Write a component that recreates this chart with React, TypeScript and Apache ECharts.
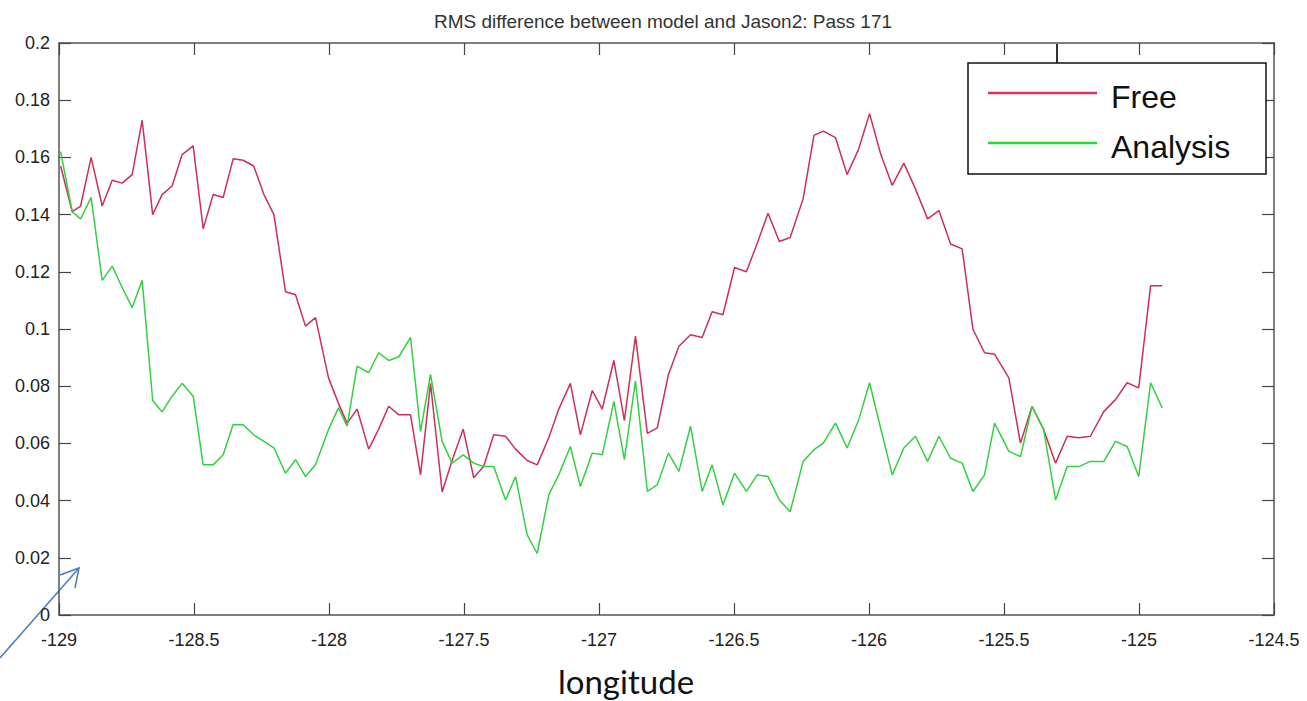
import React, { useEffect, useRef } from "react";
import * as echarts from "echarts";

// Along-track sample longitudes (degrees east)
const longitudes = [
  -128.994, -128.951, -128.92, -128.881, -128.84, -128.803, -128.766, -128.729, -128.692, -128.653,
  -128.618, -128.581, -128.544, -128.503, -128.466, -128.429, -128.392, -128.355, -128.318, -128.279,
  -128.241, -128.204, -128.161, -128.124, -128.087, -128.05, -128.002, -127.965, -127.933, -127.896,
  -127.853, -127.816, -127.779, -127.741, -127.698, -127.661, -127.624, -127.581, -127.544, -127.503,
  -127.464, -127.427, -127.39, -127.346, -127.309, -127.266, -127.229, -127.186, -127.149, -127.106,
  -127.069, -127.025, -126.988, -126.945, -126.906, -126.865, -126.821, -126.784, -126.743, -126.704,
  -126.661, -126.618, -126.581, -126.541, -126.498, -126.454, -126.414, -126.374, -126.332, -126.292,
  -126.244, -126.204, -126.169, -126.124, -126.081, -126.038, -125.998, -125.957, -125.914, -125.871,
  -125.828, -125.783, -125.741, -125.698, -125.655, -125.615, -125.572, -125.535, -125.482, -125.439,
  -125.396, -125.353, -125.309, -125.266, -125.223, -125.18, -125.13, -125.087, -125.044, -125.001,
  -124.957, -124.914,
];

// RMS difference, free-running model
const freeRms = [
  0.157, 0.141, 0.143, 0.16, 0.143, 0.152, 0.151, 0.154, 0.173, 0.14,
  0.147, 0.15, 0.161, 0.164, 0.135, 0.147, 0.146, 0.1595, 0.159, 0.157,
  0.147, 0.14, 0.113, 0.112, 0.101, 0.104, 0.083, 0.074, 0.067, 0.072,
  0.058, 0.065, 0.073, 0.07, 0.07, 0.049, 0.081, 0.043, 0.054, 0.065,
  0.048, 0.052, 0.063, 0.0625, 0.058, 0.054, 0.0525, 0.062, 0.072, 0.081,
  0.063, 0.0785, 0.072, 0.089, 0.068, 0.0975, 0.0635, 0.0654, 0.084, 0.094,
  0.098, 0.097, 0.106, 0.105, 0.1215, 0.12, 0.13, 0.1405, 0.1306, 0.132,
  0.1455, 0.1677, 0.1692, 0.1669, 0.154, 0.163, 0.1753, 0.1613, 0.1502, 0.158,
  0.149, 0.1385, 0.1414, 0.1297, 0.128, 0.0999, 0.0917, 0.0912, 0.0829, 0.0601,
  0.073, 0.0648, 0.0531, 0.0625, 0.062, 0.0625, 0.0712, 0.0753, 0.0812, 0.0794,
  0.1151, 0.1151,
];

// RMS difference, data-assimilating analysis
const analysisRms = [
  0.162, 0.141, 0.1385, 0.146, 0.117, 0.122, 0.1145, 0.1075, 0.117, 0.075,
  0.071, 0.0765, 0.081, 0.0765, 0.0525, 0.0525, 0.056, 0.0666, 0.0665, 0.063,
  0.0607, 0.0584, 0.0496, 0.0543, 0.0484, 0.0525, 0.0648, 0.0724, 0.066, 0.087,
  0.0847, 0.0917, 0.089, 0.0903, 0.0971, 0.0642, 0.0841, 0.0607, 0.0531, 0.056,
  0.0531, 0.0519, 0.0519, 0.0402, 0.0484, 0.028, 0.0215, 0.042, 0.049, 0.0589,
  0.0449, 0.0566, 0.056, 0.0747, 0.0543, 0.0818, 0.0432, 0.0455, 0.0566, 0.0502,
  0.066, 0.0432, 0.0525, 0.0385, 0.0496, 0.0432, 0.049, 0.0484, 0.0402, 0.0361,
  0.0537, 0.0578, 0.0601, 0.0671, 0.0584, 0.0683, 0.0812, 0.0654, 0.049, 0.0584,
  0.0625, 0.0537, 0.0625, 0.0548, 0.0531, 0.0432, 0.049, 0.0671, 0.0572, 0.0554,
  0.073, 0.0648, 0.0402, 0.0519, 0.0519, 0.0537, 0.0537, 0.0607, 0.0589, 0.0484,
  0.0812, 0.0724,
];

const seriesNames = ["Free", "Analysis"];
const seriesColors = ["#cc2f58", "#33d03f"];
const legendColors = ["#e0305f", "#22dd33"];
const titleText = "RMS difference between model and Jason2: Pass 171";
const xAxisTitle = "longitude";

const FONT = '"Liberation Sans", Arial, Helvetica, sans-serif';

export default function App() {
  const ref = useRef<HTMLDivElement>(null);

  useEffect(() => {
    if (!ref.current) return;
    const chart = echarts.init(ref.current, undefined, { renderer: "svg" });

    const axisLine = { show: true, onZero: false, lineStyle: { color: "#555", width: 1.5 } };
    const axisTick = { show: true, inside: true, length: 12, lineStyle: { color: "#444", width: 1.2 } };
    const xBase = { type: "value" as const, min: -129, max: -124.5, interval: 0.5, splitLine: { show: false } };
    const yBase = { type: "value" as const, min: 0, max: 0.2, interval: 0.02, splitLine: { show: false } };

    // Boxed legend in the upper-right corner of the axes
    const legendBox = { x: 968, y: 63, width: 298, height: 111 };
    const legendRows = [93, 143];
    const legendGraphics: any[] = [
      {
        type: "rect",
        z: 10,
        shape: legendBox,
        style: { fill: "#ffffff", stroke: "#111", lineWidth: 1.5 },
      },
    ];
    seriesNames.forEach((name, k) => {
      legendGraphics.push({
        type: "line",
        z: 11,
        shape: { x1: 988, y1: legendRows[k], x2: 1097, y2: legendRows[k] },
        style: { stroke: legendColors[k], lineWidth: 2.5 },
      });
      legendGraphics.push({
        type: "text",
        z: 11,
        x: 1111,
        y: legendRows[k] + 4,
        style: {
          text: name,
          fontSize: 32,
          fontFamily: FONT,
          fill: "#111",
          textAlign: "left",
          textVerticalAlign: "middle",
        },
      });
    });

    chart.setOption({
      animation: false,
      backgroundColor: "#ffffff",
      grid: { left: 59, right: 33, top: 43, bottom: 86, containLabel: false },
      xAxis: [
        {
          ...xBase,
          position: "bottom",
          axisLine,
          axisTick,
          axisLabel: { fontSize: 18, color: "#222", margin: 16, fontFamily: FONT },
        },
        {
          ...xBase,
          position: "top",
          axisLine,
          axisTick,
          axisLabel: { show: false },
        },
      ],
      yAxis: [
        {
          ...yBase,
          position: "left",
          axisLine,
          axisTick,
          axisLabel: { fontSize: 18, color: "#222", margin: 9, fontFamily: FONT },
        },
        {
          ...yBase,
          position: "right",
          axisLine,
          axisTick,
          axisLabel: { show: false },
        },
      ],
      series: seriesNames.map((name, k) => {
        const values = k === 0 ? freeRms : analysisRms;
        return {
          name,
          type: "line",
          xAxisIndex: 0,
          yAxisIndex: 0,
          symbol: "none",
          color: seriesColors[k],
          lineStyle: { width: 1.5, color: seriesColors[k] },
          data: longitudes.map((lon, i) => [lon, values[i]]),
        };
      }),
      graphic: [
        {
          type: "text",
          x: 663,
          y: 21,
          style: {
            text: titleText,
            fontSize: 19,
            fontFamily: FONT,
            fill: "#333",
            textAlign: "center",
            textVerticalAlign: "middle",
          },
        },
        {
          type: "text",
          x: 626,
          y: 681,
          style: {
            text: xAxisTitle,
            fontSize: 33,
            fontFamily: "Lato, 'Open Sans', sans-serif",
            fill: "#111",
            textAlign: "center",
            textVerticalAlign: "middle",
          },
        },
        {
          type: "line",
          shape: { x1: 1057, y1: 44, x2: 1057, y2: 63 },
          style: { stroke: "#333", lineWidth: 2 },
        },
        {
          type: "polyline",
          shape: { points: [[0, 658], [79, 568]] },
          style: { stroke: "#4a7ebb", lineWidth: 1.5, fill: "none" },
        },
        {
          type: "polyline",
          shape: { points: [[60, 575], [79, 568], [75, 588]] },
          style: { stroke: "#4a7ebb", lineWidth: 1.5, fill: "none" },
        },
        ...legendGraphics,
      ],
    });

    return () => chart.dispose();
  }, []);

  return (
    <div
      ref={ref}
      style={{ position: "fixed", left: 0, top: 0, width: 1307, height: 701, background: "#fff" }}
    />
  );
}
